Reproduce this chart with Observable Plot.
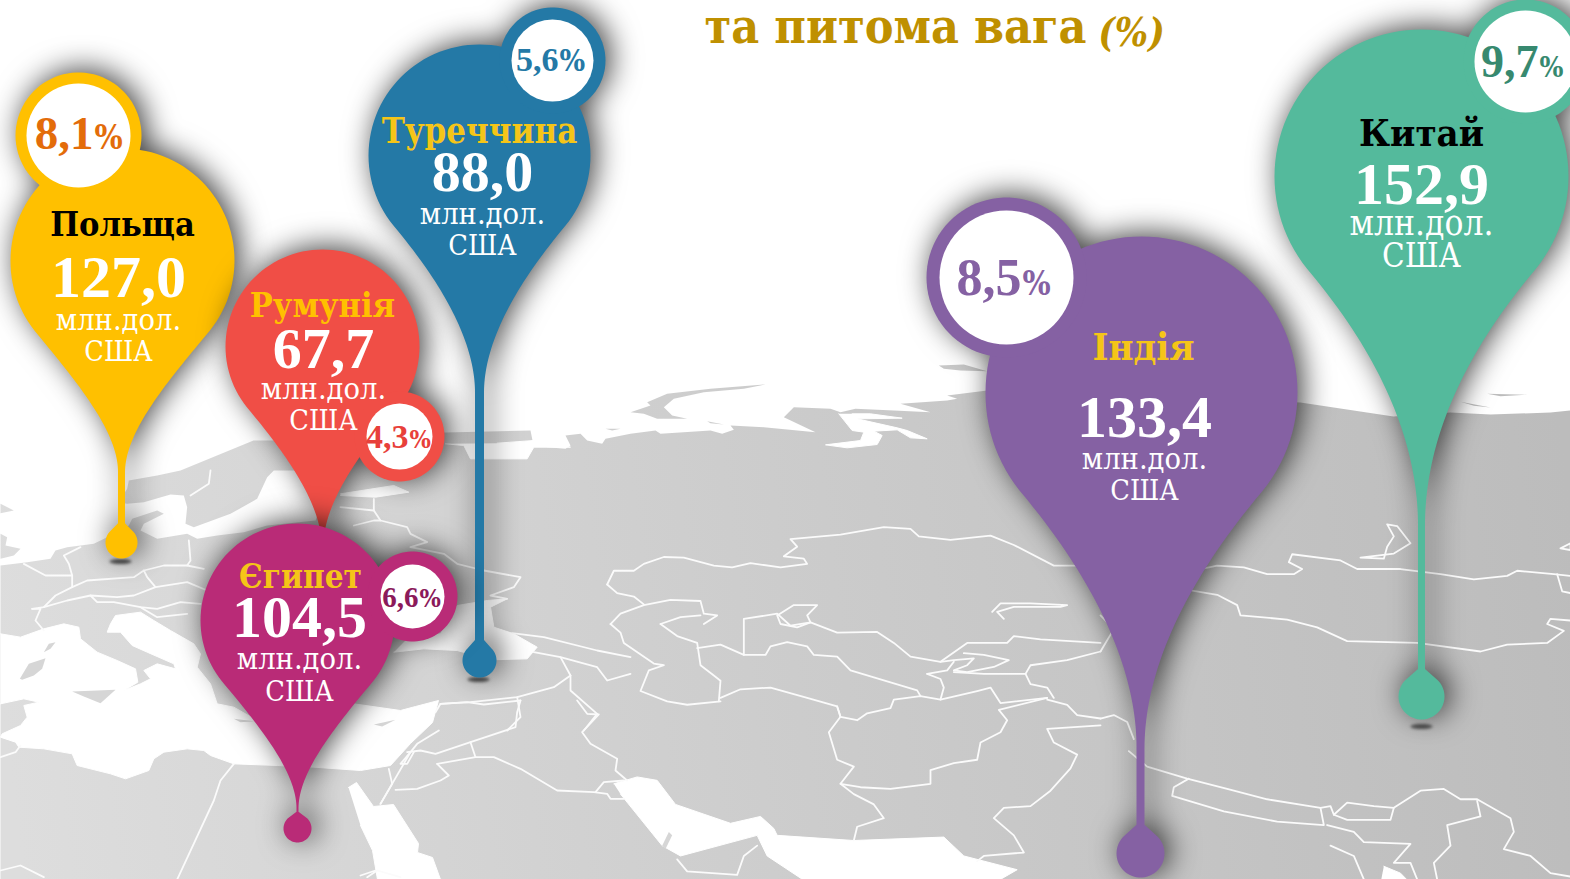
<!DOCTYPE html>
<html><head><meta charset="utf-8">
<script src="https://cdn.jsdelivr.net/npm/d3@7"></script>
<script src="https://cdn.jsdelivr.net/npm/@observablehq/plot@0.6"></script>
<style>html,body{margin:0;padding:0;background:#fff;overflow:hidden}svg{display:block}</style>
</head><body><div id="c"></div>
<script>
// ---------- chart values ----------
const countries = ["Польща","Туреччина","Румунія","Єгипет","Індія","Китай"];
const imports   = [127.0, 88.0, 67.7, 104.5, 133.4, 152.9];
const shares    = [8.1, 5.6, 4.3, 6.6, 8.5, 9.7];
const unitLine1 = "млн.дол.";
const unitLine2 = "США";
const titleText = "та питома вага";
const titleUnit = "(%)";
const comma = v => d3.format(".1f")(v).replace(".", ",");

// ---------- pin placement ----------
const pins = [
 {i:0,color:"#ffc000",nameColor:"#000",cx:122,cy:260,R:112,sx:121,sh:3.5,sy:472,by:542,br:16,bx:78,bcy:135,bo:63,bi:52,shareColor:"#e36c0a",
  tx:122,ny:235,ns:34,vx:118,vy:296,u1:329,u2:360,us:30.5,pct:[93,148,47,33]},
 {i:2,color:"#f04e46",nameColor:"#ffc000",cx:322,cy:346,R:97,sx:322,sh:1,sy:545,by:560,br:0,bx:399,bcy:436,bo:45,bi:33,shareColor:"#e8403a",
  tx:322,ny:316,ns:34,vx:323,vy:367,u1:398,u2:429,us:30.5,pct:[408,447,34,25]},
 {i:1,color:"#2479a6",nameColor:"#f5c518",cx:479,cy:155,R:111,sx:479,sh:4.5,sy:392,by:660,br:17,bx:552,bcy:60,bo:53,bi:41,shareColor:"#2479a6",
  tx:479,ny:142,ns:34.5,vx:482,vy:190,u1:223,u2:254,us:30.5,pct:[558,70,34,30]},
 {i:3,color:"#b92b77",nameColor:"#f5c518",cx:297,cy:620,R:97,sx:297,sh:1,sy:808,by:828,br:14,bx:412,bcy:596,bo:45,bi:32,shareColor:"#8b1a5a",
  tx:300,ny:587,ns:33,vx:299,vy:636,u1:668,u2:700,us:30.5,pct:[418,606,29,25]},
 {i:4,color:"#8561a3",nameColor:"#f5c518",cx:1141,cy:392,R:156,sx:1140,sh:4,sy:748,by:853,br:24,bx:1006,bcy:277,bo:80,bi:67,shareColor:"#8561a3",
  tx:1143,ny:359,ns:38,vx:1144,vy:436,u1:468,u2:499,us:30.5,pct:[1021,294,52,33]},
 {i:5,color:"#54ba9c",nameColor:"#000",cx:1421,cy:176,R:147,sx:1421,sh:3.5,sy:525,by:696,br:23,bx:1525,bcy:61,bo:62,bi:51,shareColor:"#37896f",
  tx:1421,ny:145,ns:38,vx:1421,vy:203,u1:234,u2:266,us:35,pct:[1538,76,46,28]}
];
const groundMarks = [[120,561],[478,679],[1421,726]];

// ---------- traced map outlines: each block is in the pixel frame of the crop it was read from ----------
const fromB = ([x,y]) => [600+x/3, 340+y/2.91];
const fromC = ([x,y]) => [1100+x/3, 340+y/2.91];
const fromE = ([x,y]) => [x/3, 480+y/3];
const fromF = ([x,y]) => [330+x/3, 430+y/3];
const fromG = ([x,y]) => [530+x/3, 350+y/3];
const fromH = ([x,y]) => [360+x/3, 700+y/3];
const fromJ = ([x,y]) => [x/3, 610+y/3];
const fromK = ([x,y]) => [x/3, 470+y/3];

const landWest = [...[[0,285],[80,275],[150,265],[165,240],[200,230],[280,220],[320,200],[385,165],[395,145],[470,120],[490,130],[430,160],[420,180],[470,205],[560,190],[590,205],[650,195],[730,185],[800,165],[945,150]].map(fromK),[322,500],[322,430],[360,432],[445,432],[530,430],[532,440]];
const landNorth = [[0,270],[50,290],[105,295],[120,285],[105,255],[150,250],[170,270],[215,280],[225,265],[300,250],[375,240],[390,250],[540,240],[575,250],[610,238],[600,225],[700,230],[855,245],[760,200],[790,170],[900,175],[930,185],[975,175],[1090,180],[1200,185],[1110,160],[1250,150],[1280,145],[1250,135],[1370,120]].map(fromG);
const landEast = [[987,390],[1100,393],[1300,402],[1393,416],[1450,412],[1490,414],[1550,412],[1570,410],[1570,879],[0,879]];
const landTop = [...landWest,...landNorth,...landEast];

const greyShapes = [
 // Scandinavia
 [...[[355,95],[380,55],[385,30],[470,15],[540,0]].map(fromK),[253,440],[322,440],[322,470],
  ...[[900,0],[820,0],[800,20],[770,85],[690,130],[580,170],[555,160],[560,110],[550,75],[510,72],[430,95],[380,100]].map(fromK)],
 // British Isles
 [[0,190],[20,200],[15,225],[60,235],[40,255],[0,265]].map(fromK),
 [[0,100],[40,120],[0,128]].map(fromK),
 // Novaya Zemlya and the Arctic islands
 [[300,185],[360,165],[350,155],[410,130],[540,115],[705,102],[640,115],[520,125],[430,145],[400,170],[425,195],[470,205],[380,205],[340,190]].map(fromG),
 [[225,235],[270,235],[245,240]].map(fromG),
 [[530,212],[580,222],[540,218]].map(fromG),
 [[1225,45],[1300,42],[1370,62],[1290,60],[1240,55]].map(fromG),
 [[1160,155],[1280,158],[1200,162]].map(fromC),
 [[1080,178],[1170,195],[1120,190]].map(fromC)
];
const seas = [
 // Mediterranean with the Adriatic
 [...[[0,70],[60,80],[130,55],[190,40],[235,50],[240,85],[290,125],[350,150],[405,175],[412,215],[370,240],[420,220],[450,205],[430,180],[470,160],[525,175],[520,160],[440,125],[395,105],[360,65],[320,65],[330,40],[345,15],[420,5],[460,30],[510,60],[580,100],[600,130],[590,170],[630,220]].map(fromJ),
  ...[[650,670],[700,680],[770,720],[900,680],[1060,670],[1200,690]].map(fromE),
  [415,706],[438,700],[432,722],[410,743],[390,765],[360,770],
  ...[[940,860],[830,855],[700,850]].map(fromE),
  ...[[630,435],[610,420],[560,415],[490,425],[460,445],[445,480],[375,505],[330,490],[230,465],[215,430],[130,415],[55,410],[45,395],[0,380],[5,370],[60,345],[80,320],[70,285],[115,275],[70,265],[0,280]].map(fromJ)],
 // Black Sea
 [[230,625],[330,610],[380,525],[440,515],[470,510],[530,505],[480,530],[490,590],[550,610],[620,650],[590,685],[480,688],[380,660],[280,655],[190,665]].map(fromF),
 // Gulf of Finland
 [[30,190],[190,165],[235,185],[135,200],[30,195]].map(fromF),
 // White Sea
 [[345,40],[400,45],[420,85],[590,85],[610,50],[720,50],[610,30],[500,38]].map(fromF),
 // Kara Sea inlets
 [[925,190],[965,240],[1000,245],[990,270],[885,283],[950,292],[1040,282],[1055,255],[1030,242],[1100,238],[1140,262],[1190,265],[1130,240],[1100,232],[980,205],[1115,203],[1020,190],[965,190]].map(fromG),
 // Red Sea
 [[348,787],[356,782],[373,806],[393,804],[418,843],[417,852],[432,857],[440,879],[377,879],[372,850],[360,825]],
 // Persian Gulf and Arabian Sea
 [[40,1290],[110,1270],[170,1280],[225,1350],[390,1405],[480,1385],[520,1420],[530,1440],[760,1455],[1030,1445],[1090,1500],[1250,1540],[1200,1568],[1100,1590],[640,1590],[500,1500],[470,1440],[240,1500],[185,1470],[60,1320]].map(fromB),
 // Bay of Bengal head
 [[850,1530],[900,1550],[930,1580],[840,1580]].map(fromC)
];
const greyIslands = [
 [[58,205],[85,160],[135,143],[125,175],[100,195],[65,208]].map(fromJ),
 [[130,125],[145,100],[165,95],[150,115]].map(fromJ),
 [[215,243],[345,238],[300,278],[250,258]].map(fromJ),
 [[700,715],[760,722],[720,725]].map(fromE),
 [[40,72],[105,58],[65,78]].map(fromH),
 [[185,1470],[205,1430],[215,1440],[195,1480]].map(fromB)
];
const borders = [
 // Kazakhstan and Central Asia
 [[20,710],[40,670],[100,670],[130,650],[190,630],[250,632],[340,655],[395,660],[450,648],[540,660],[620,650],[610,635],[550,628],[590,600],[570,578],[720,565],[850,543],[930,548],[955,570],[1050,580],[1170,568],[1240,595],[1360,655],[1440,655]],
 [[20,710],[50,735],[100,745],[130,768]],
 [[30,825],[60,795],[130,770],[210,755],[300,758],[310,795],[350,800],[310,825]],
 [[180,825],[240,805],[300,800]],
 [[180,825],[230,860],[290,880],[300,945],[340,975],[360,990],[355,1050]],
 [[30,825],[60,850],[70,880],[160,940],[190,945],[145,960],[120,1020],[200,1050],[260,1060],[360,1050]],
 [[360,1040],[420,1015],[510,1010],[620,1040],[710,1065],[720,1095],[770,1105],[800,1085],[870,1070],[880,1045],[960,1035],[1020,1045],[1130,1020],[1170,1010],[1200,1055],[1340,1040]],
 [[290,895],[360,885],[430,915],[495,915],[510,890],[560,878],[620,890],[640,915],[710,920],[750,960],[950,1018],[960,1035]],
 [[430,915],[430,810],[530,795],[570,830],[630,820],[710,850],[830,848],[880,880],[930,920],[1020,935],[1100,880],[1220,880],[1240,860],[1320,870],[1500,880]],
 [[530,800],[580,770],[650,770],[620,800],[630,820],[590,835],[540,825],[530,800]],
 [[1175,790],[1200,765],[1290,765],[1400,770],[1380,775],[1240,775],[1190,790],[1210,810]],
 [[1020,935],[1060,930],[1120,925],[1100,945],[1060,960],[1100,965],[1180,950],[1225,930],[1150,915],[1090,910]],
 [[1060,965],[1150,970],[1275,970],[1290,1000],[1340,1010],[1360,1040]],
 [[1275,970],[1290,945],[1400,930],[1500,905]],
 [[980,970],[1020,985],[1030,1010],[1020,1045]],
 [[980,970],[1040,960],[1060,935]],
 [[710,1065],[720,1095],[685,1140],[710,1220],[760,1240],[720,1290],[780,1300],[870,1305],[990,1290],[990,1250],[1060,1230],[1130,1220],[1140,1170],[1200,1140],[1220,1105],[1195,1075],[1340,1040]],
 [[720,1290],[760,1320],[820,1350],[850,1390],[770,1415],[760,1455]],
 [[1500,1100],[1430,1090],[1400,1060],[1340,1045]],
 [[1500,1120],[1340,1130],[1360,1170],[1430,1205],[1410,1245],[1350,1310],[1290,1355],[1210,1360],[1180,1390],[1240,1440],[1270,1490],[1150,1500],[1130,1515]],
 [[230,1510],[260,1545],[410,1555],[430,1500],[470,1470]]
].map(l => l.map(fromB)).concat([
 // Mongolia, China, South Asia
 [[300,665],[350,655],[430,660],[500,680],[580,680],[605,665],[565,645],[575,622],[720,640],[770,665],[900,665],[1020,680],[1120,695],[1220,685],[1250,670],[1360,680],[1410,685]],
 [[275,728],[350,740],[410,770],[420,800],[560,812],[650,835],[740,875],[950,880],[1140,905],[1220,885],[1340,880],[1390,845],[1340,825],[1350,810],[1410,815]],
 [[860,535],[890,540],[930,590],[880,620],[780,632],[850,635],[860,600],[880,570],[860,535]],
 [[1370,680],[1385,730],[1410,735]],
 [[1380,605],[1410,590],[1410,610],[1380,605]],
 [[85,1195],[140,1240],[260,1275],[380,1305],[500,1335],[660,1360],[690,1355],[700,1380],[740,1345],[820,1355],[880,1360],[960,1310],[1030,1305],[1080,1335],[1130,1335],[1230,1390],[1240,1430],[1210,1480],[1290,1500],[1350,1550],[1410,1560]],
 [[265,1275],[220,1300],[215,1325],[370,1370],[530,1400],[670,1410],[660,1360]],
 [[700,1380],[740,1395],[870,1395],[880,1360]],
 [[680,1410],[760,1430],[790,1460],[930,1465],[880,1520],[930,1520],[950,1568]],
 [[690,1470],[760,1500],[790,1568]],
 [[1130,1340],[1140,1385],[1040,1410],[1050,1470],[1000,1520],[1010,1568]],
 [[0,800],[40,840],[0,905]],
 [[0,1100],[40,1090],[80,1110],[100,1160]]
].map(l => l.map(fromC))).concat([
 // Western and central Europe, North Africa
 [[70,250],[135,285],[215,285],[205,250],[190,225],[240,200]],
 [[215,320],[260,300],[400,290],[430,270],[440,290],[465,320],[560,305],[620,330]],
 [[95,385],[130,380],[200,360],[270,345],[350,350],[400,345],[465,320]],
 [[95,385],[120,385],[105,420],[130,450]],
 [[215,320],[165,345],[130,380]],
 [[215,285],[215,320]],
 [[430,270],[490,255],[560,255],[610,265]],
 [[565,180],[570,240],[560,255]],
 [[270,345],[290,365],[340,365],[420,380],[470,385],[540,365],[600,370]],
 [[420,380],[470,410],[560,400]],
 [[700,850],[660,900],[640,960],[530,1197]],
 [[0,1170],[60,1155],[130,1190]],
 [[1100,1190],[1130,1170],[1200,1190]]
].map(l => l.map(fromE))).concat([
 // Ukraine, Caucasus, Turkey
 [[130,205],[130,240],[150,270],[230,290],[240,310],[290,335],[240,350],[340,370],[380,400],[460,420],[570,440],[550,470],[480,495],[530,505]],
 [[30,230],[130,240]],
 [[70,285],[130,270],[150,270]],
 [[545,608],[640,620],[800,660],[900,680]],
 [[610,665],[690,680],[800,710],[830,750],[900,730]],
 [[690,680],[720,735],[720,780],[800,850],[760,900]],
 [[330,820],[420,815],[560,800],[670,770],[720,735]],
 [[560,800],[570,860],[530,900]]
].map(l => l.map(fromF))).concat([
 // Levant, Iraq, Arabia
 [[225,35],[240,10],[320,5],[370,12],[480,0]],
 [[480,0],[470,35],[465,80],[330,125],[225,160],[180,150],[140,155]],
 [[330,125],[345,170]],
 [[230,190],[345,170],[400,170],[480,205],[590,270],[700,275],[740,280],[750,295],[790,295]],
 [[230,190],[265,225],[240,240],[170,265],[105,268]],
 [[150,155],[120,190],[140,190],[160,155]],
 [[85,205],[95,250],[60,310]],
 [[60,310],[150,155],[170,130],[235,90]],
 [[650,0],[680,40],[715,42],[665,95],[690,130],[770,175],[765,210],[800,240]],
 [[705,275],[730,245],[790,240]],
 [[0,525],[45,510]]
].map(l => l.map(fromH))).concat([
 [[0,440],[45,425],[60,405]].map(fromJ),
 [[630,0],[625,40],[570,75]].map(fromK)
]);

// ---------- shape builders ----------
const rad = d => d*Math.PI/180;
const ring = (x,y,r) => d3.range(0,361,4).map(a => [x+r*Math.cos(rad(a)), y+r*Math.sin(rad(a))]);
function pinPath(p){
  const a = rad(40), pts = [];
  for(let t=-90;t<=40;t+=3) pts.push([p.cx+p.R*Math.cos(rad(t)), p.cy+p.R*Math.sin(rad(t))]);
  const P0=[p.cx+p.R*Math.cos(a), p.cy+p.R*Math.sin(a)];
  const len=p.sy-P0[1], L1=0.5*len, L2=0.28*len;
  const P1=[P0[0]-Math.sin(a)*L1, P0[1]+Math.cos(a)*L1];
  const P3=[p.sx+p.sh, p.sy], P2=[P3[0], p.sy-L2];
  const curve=[];
  for(let k=1;k<=40;k++){const t=k/40,u=1-t;
    curve.push([u*u*u*P0[0]+3*u*u*t*P1[0]+3*u*t*t*P2[0]+t*t*t*P3[0], u*u*u*P0[1]+3*u*u*t*P1[1]+3*u*t*t*P2[1]+t*t*t*P3[1]]);}
  const right=[...pts,...curve];
  let tail=[];
  if(p.br>0){
    tail.push([p.sx+p.sh, p.by-p.br*1.2]);
    for(let t=-45;t<=225;t+=5) tail.push([p.sx+p.br*Math.cos(rad(t)), p.by+p.br*Math.sin(rad(t))]);
    tail.push([p.sx-p.sh, p.by-p.br*1.2]);
  }
  const left=right.slice().reverse().map(([x,y])=>[p.cx-(x-p.cx)+(p.sx-p.cx)*(y>p.cy?2*Math.min(1,(y-p.cy)/(p.sy-p.cy)):0),y]);
  return [...right,...tail,...left];
}
const byPart = (...parts) => parts.flatMap((pts,z)=>pts.map(([x,y])=>({x,y,z})));
const poly = (pts,opt) => Plot.line(pts,{x:d=>d[0],y:d=>d[1],curve:"linear",...opt});

const serif = "'DejaVu Serif Condensed','DejaVu Serif',serif";
const numeral = "'Liberation Serif',serif";
const txt = (s,x,y,size,fill,extra={}) => Plot.text([s],{x:()=>x,y:()=>y,text:d=>d,fontSize:size,fill,fontFamily:serif,lineAnchor:"bottom",textAnchor:"middle",...extra});

const marks = [];
marks.push(()=>{
  const d=d3.create("svg:defs");
  const g=d.append("linearGradient").attr("id","landFill").attr("gradientUnits","userSpaceOnUse")
    .attr("x1",0).attr("y1",700).attr("x2",1570).attr("y2",500);
  [[0,"#dddddd"],[.5,"#cccccc"],[1,"#bcbcbc"]].forEach(([o,c])=>g.append("stop").attr("offset",o).attr("stop-color",c));
  return d.node();
});
marks.push(poly(landTop,{fill:"url(#landFill)",stroke:"none"}));
greyShapes.forEach(s=>marks.push(poly(s,{fill:"url(#landFill)",stroke:"none"})));
seas.forEach(s=>marks.push(poly(s,{fill:"#ffffff",stroke:"#ffffff",strokeWidth:1})));
greyIslands.forEach(s=>marks.push(poly(s,{fill:"#d6d6d6",stroke:"none"})));
borders.forEach(s=>marks.push(poly(s,{stroke:"#fbfbfb",strokeWidth:1.8,fill:"none"})));
groundMarks.forEach(([x,y])=>marks.push(poly(d3.range(0,361,15).map(a=>[x+11*Math.cos(rad(a)),y+2.5*Math.sin(rad(a))]),{fill:"#555",stroke:"none",imageFilter:"blur(1.5px)"})));

// Title
marks.push(txt(titleText,895,42,48,"#bf9000",{fontWeight:700}));
marks.push(txt(titleUnit,1131,45,39,"#bf9000",{fontWeight:700,fontStyle:"italic"}));

pins.forEach(p=>{
  marks.push(Plot.line(byPart(pinPath(p),ring(p.bx,p.bcy,p.bo)),{x:"x",y:"y",z:"z",fill:p.color,stroke:"none",curve:"linear",
    imageFilter:"drop-shadow(5px -3px 15px rgba(0,0,0,.75))"}));
  marks.push(Plot.dot([p],{x:"bx",y:"bcy",r:"bi",fill:"#fff",stroke:"none"}));
  marks.push(txt(countries[p.i],p.tx,p.ny,p.ns,p.nameColor,{fontWeight:700}));
  marks.push(txt(comma(imports[p.i]),p.vx,p.vy,p.i===1||p.i===2?58:60,"#fff",{fontWeight:700,fontFamily:numeral}));
  marks.push(txt(unitLine1,p.vx,p.u1,p.us,"#fff"));
  marks.push(txt(unitLine2,p.vx,p.u2,p.us-2,"#fff"));
  const [sx,sy,s1,s2]=p.pct;
  marks.push(txt(comma(shares[p.i]),sx,sy,s1,p.shareColor,{fontWeight:700,textAnchor:"end",fontFamily:numeral}));
  marks.push(txt("%",sx+1,sy,s2,p.shareColor,{fontWeight:700,textAnchor:"start"}));
});

const chart = Plot.plot({
  width:1570,height:879,margin:0,
  x:{domain:[0,1570],range:[0,1570],axis:null},
  y:{domain:[0,879],range:[0,879],axis:null},
  r:{type:"identity"},
  style:{background:"#fff",overflow:"hidden"},
  marks
});
document.getElementById("c").append(chart);
</script></body></html>
